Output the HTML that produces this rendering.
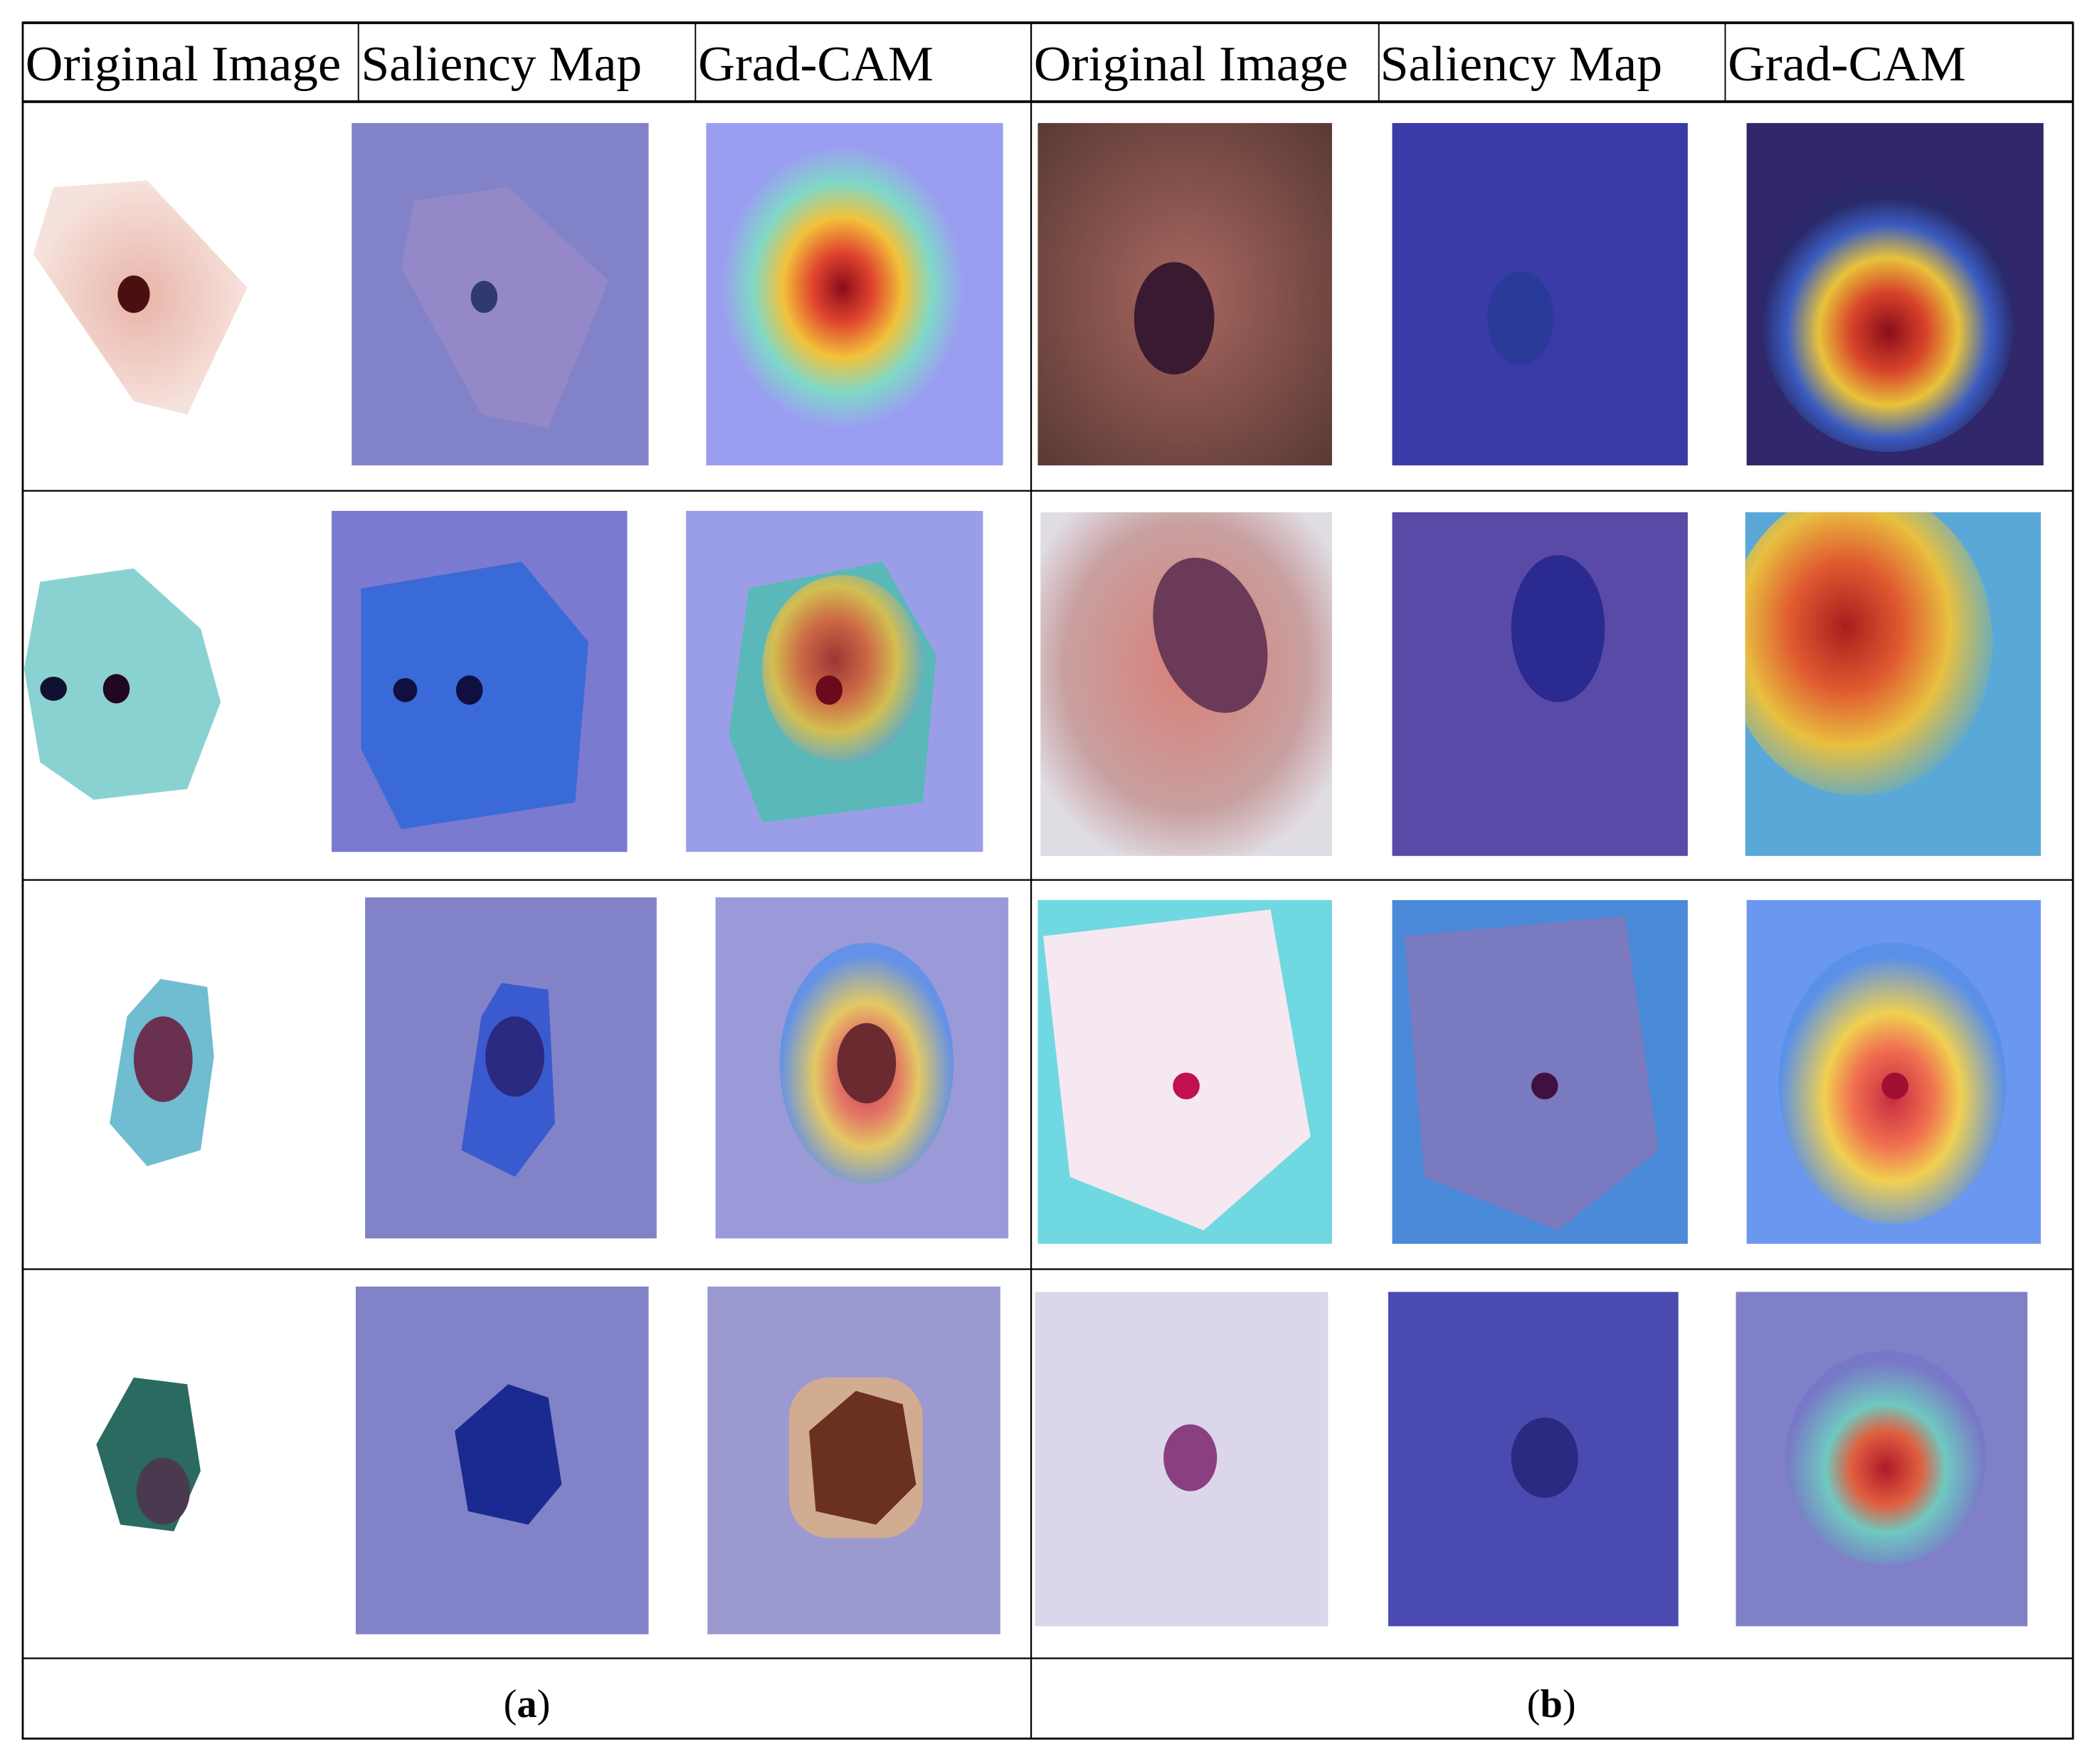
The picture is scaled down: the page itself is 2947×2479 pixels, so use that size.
<!DOCTYPE html>
<html><head><meta charset="utf-8"><style>
html,body{margin:0;padding:0;background:#fff}
svg{display:block}
text{font-family:"Liberation Serif",serif;fill:#000}
</style></head><body>
<svg width="2947" height="2479" viewBox="0 0 1568 1319" preserveAspectRatio="none" xmlns="http://www.w3.org/2000/svg">
<defs>
<radialGradient id="gcHot" cx="0.5" cy="0.5" r="0.5"><stop offset="0" stop-color="#8a0c1a"/><stop offset="0.25" stop-color="#e0442e"/><stop offset="0.5" stop-color="#f2c23a"/><stop offset="0.75" stop-color="#7fd8c8"/><stop offset="1" stop-color="#9aa0f0"/></radialGradient>
<radialGradient id="gcDark" cx="0.5" cy="0.55" r="0.5"><stop offset="0" stop-color="#8a0c1a"/><stop offset="0.3" stop-color="#d8442a"/><stop offset="0.55" stop-color="#e8c23a"/><stop offset="0.8" stop-color="#3a5cc0"/><stop offset="1" stop-color="#2a2a6a"/></radialGradient>
<radialGradient id="gcWarm" cx="0.45" cy="0.45" r="0.6"><stop offset="0" stop-color="#a81e1e"/><stop offset="0.35" stop-color="#e05a30"/><stop offset="0.65" stop-color="#e8c040"/><stop offset="1" stop-color="#50a8d8"/></radialGradient>
<radialGradient id="gcMid" cx="0.5" cy="0.55" r="0.5"><stop offset="0" stop-color="#c82a40"/><stop offset="0.35" stop-color="#f07050"/><stop offset="0.6" stop-color="#f0d050"/><stop offset="1" stop-color="#5a90e8"/></radialGradient>
<radialGradient id="gcBox" cx="0.5" cy="0.55" r="0.5"><stop offset="0" stop-color="#b0182a"/><stop offset="0.35" stop-color="#e06040"/><stop offset="0.6" stop-color="#70c8c0"/><stop offset="1" stop-color="#7878c8"/></radialGradient>
<radialGradient id="cellPink" cx="0.5" cy="0.5" r="0.5"><stop offset="0" stop-color="#e8b4a8"/><stop offset="1" stop-color="#f6e2dc"/></radialGradient>
<radialGradient id="origBrown" cx="0.5" cy="0.5" r="0.7"><stop offset="0" stop-color="#a86660"/><stop offset="1" stop-color="#5a3a34"/></radialGradient>
<radialGradient id="origPink2" cx="0.5" cy="0.45" r="0.6"><stop offset="0" stop-color="#d88078"/><stop offset="0.7" stop-color="#c8a0a0"/><stop offset="1" stop-color="#e0dce4"/></radialGradient>
<clipPath id="clipB2"><rect x="1305" y="383" width="221" height="257"/></clipPath>
</defs>

<g stroke="#000" fill="none">
<rect x="17" y="17" width="1533" height="1283" stroke-width="1.5"/>
<line x1="17" y1="17" x2="1550" y2="17" stroke-width="2"/>
<line x1="17" y1="76" x2="1550" y2="76" stroke-width="2"/>
<line x1="17" y1="367" x2="1550" y2="367" stroke-width="1.2"/>
<line x1="17" y1="658" x2="1550" y2="658" stroke-width="1.2"/>
<line x1="17" y1="949" x2="1550" y2="949" stroke-width="1.2"/>
<line x1="17" y1="1240" x2="1550" y2="1240" stroke-width="1.2"/>
<line x1="771" y1="17" x2="771" y2="1300" stroke-width="1.2"/>
<line x1="268" y1="17" x2="268" y2="76" stroke-width="1"/>
<line x1="520" y1="17" x2="520" y2="76" stroke-width="1"/>
<line x1="1031" y1="17" x2="1031" y2="76" stroke-width="1"/>
<line x1="1290" y1="17" x2="1290" y2="76" stroke-width="1"/>
</g>

<g font-size="37">
<text x="19" y="60" textLength="236" lengthAdjust="spacingAndGlyphs">Original Image</text>
<text x="270" y="60" textLength="210" lengthAdjust="spacingAndGlyphs">Saliency Map</text>
<text x="522" y="60" textLength="176" lengthAdjust="spacingAndGlyphs">Grad-CAM</text>
<text x="773" y="60" textLength="235" lengthAdjust="spacingAndGlyphs">Original Image</text>
<text x="1032" y="60" textLength="211" lengthAdjust="spacingAndGlyphs">Saliency Map</text>
<text x="1292" y="60" textLength="178" lengthAdjust="spacingAndGlyphs">Grad-CAM</text>
</g>

<g>
<polygon points="40,140 110,135 185,215 140,310 100,300 25,190" fill="url(#cellPink)"/>
<ellipse cx="100" cy="220" rx="12" ry="14" fill="#4a1010"/>
<rect x="263" y="92" width="222" height="256" fill="#8282c8"/>
<polygon points="310,150 380,140 455,210 410,320 360,310 300,200" fill="#9488c8"/>
<ellipse cx="362" cy="222" rx="10" ry="12" fill="#303a70"/>
<rect x="528" y="92" width="222" height="256" fill="#9a9ef0"/>
<ellipse cx="630" cy="215" rx="90" ry="105" fill="url(#gcHot)"/>
<rect x="776" y="92" width="220" height="256" fill="url(#origBrown)"/>
<ellipse cx="878" cy="238" rx="30" ry="42" fill="#3a1a30"/>
<rect x="1041" y="92" width="221" height="256" fill="#3a3aa8"/>
<ellipse cx="1137" cy="238" rx="25" ry="35" fill="#2a3a98"/>
<rect x="1306" y="92" width="222" height="256" fill="#30286a"/>
<ellipse cx="1412" cy="238" rx="95" ry="100" fill="url(#gcDark)"/>
</g>

<g>
<polygon points="30,435 100,425 150,470 165,525 140,590 70,598 30,570 18,500" fill="#8ad2d2"/>
<ellipse cx="40" cy="515" rx="10" ry="9" fill="#101030"/>
<ellipse cx="87" cy="515" rx="10" ry="11" fill="#200820"/>
<rect x="248" y="382" width="221" height="255" fill="#7a7ad0"/>
<polygon points="270,440 390,420 440,480 430,600 300,620 270,560" fill="#3a6ad8"/>
<ellipse cx="303" cy="516" rx="9" ry="9" fill="#101040"/>
<ellipse cx="351" cy="516" rx="10" ry="11" fill="#101040"/>
<rect x="513" y="382" width="222" height="255" fill="#9a9ee8"/>
<polygon points="560,440 660,420 700,490 690,600 570,615 545,550" fill="#5ab8b8"/>
<ellipse cx="630" cy="500" rx="60" ry="70" fill="url(#gcWarm)" opacity="0.85"/>
<ellipse cx="620" cy="516" rx="10" ry="11" fill="#6a0a1a"/>
<rect x="778" y="383" width="218" height="257" fill="url(#origPink2)"/>
<ellipse cx="905" cy="475" rx="40" ry="60" fill="#6a3a58" transform="rotate(-20 905 475)"/>
<rect x="1041" y="383" width="221" height="257" fill="#5a4aa8"/>
<ellipse cx="1165" cy="470" rx="35" ry="55" fill="#2a2a90"/>
<rect x="1305" y="383" width="221" height="257" fill="#5aa8d8"/>
<ellipse cx="1390" cy="480" rx="100" ry="115" fill="url(#gcWarm)" clip-path="url(#clipB2)"/>
</g>

<g>
<polygon points="120,732 155,738 160,790 150,860 110,872 82,840 95,760" fill="#70bcd0"/>
<ellipse cx="122" cy="792" rx="22" ry="32" fill="#6a3050"/>
<rect x="273" y="671" width="218" height="255" fill="#8282c8"/>
<polygon points="375,735 410,740 415,840 385,880 345,860 360,760" fill="#3a5ad0"/>
<ellipse cx="385" cy="790" rx="22" ry="30" fill="#2a2a80"/>
<rect x="535" y="671" width="219" height="255" fill="#9a9ad8"/>
<ellipse cx="648" cy="795" rx="65" ry="90" fill="url(#gcMid)" opacity="0.85"/>
<ellipse cx="648" cy="795" rx="22" ry="30" fill="#6a2a30"/>
<rect x="776" y="673" width="220" height="257" fill="#70d8e0"/>
<polygon points="780,700 950,680 980,850 900,920 800,880" fill="#f6e8f0"/>
<circle cx="887" cy="812" r="10" fill="#c01050"/>
<rect x="1041" y="673" width="221" height="257" fill="#4a8ad8"/>
<polygon points="1050,700 1215,685 1240,860 1165,920 1065,880" fill="#7a7ac0"/>
<circle cx="1155" cy="812" r="10" fill="#401040"/>
<rect x="1306" y="673" width="220" height="257" fill="#6a98f0"/>
<ellipse cx="1415" cy="810" rx="85" ry="105" fill="url(#gcMid)"/>
<circle cx="1417" cy="812" r="10" fill="#a01030"/>
</g>

<g>
<polygon points="100,1030 140,1035 150,1100 130,1145 90,1140 72,1080" fill="#2a6a60"/>
<ellipse cx="122" cy="1115" rx="20" ry="25" fill="#4a3a50"/>
<rect x="266" y="962" width="219" height="260" fill="#8282c8"/>
<polygon points="380,1035 410,1045 420,1110 395,1140 350,1130 340,1070" fill="#1a2a90"/>
<rect x="529" y="962" width="219" height="260" fill="#9a9ad0"/>
<rect x="590" y="1030" width="100" height="120" rx="30" fill="#e0b080" opacity="0.8"/>
<polygon points="640,1040 675,1050 685,1110 655,1140 610,1130 605,1070" fill="#6a3020"/>
<rect x="774" y="966" width="219" height="250" fill="#dcd6ea"/>
<ellipse cx="890" cy="1090" rx="20" ry="25" fill="#8a4080"/>
<rect x="1038" y="966" width="217" height="250" fill="#4a4ab0"/>
<ellipse cx="1155" cy="1090" rx="25" ry="30" fill="#2a2a80"/>
<rect x="1298" y="966" width="218" height="250" fill="#8080c8"/>
<ellipse cx="1410" cy="1090" rx="75" ry="80" fill="url(#gcBox)"/>
</g>

<g font-size="30" text-anchor="middle">
<text x="394" y="1284">(<tspan font-weight="bold">a</tspan>)</text>
<text x="1160" y="1284">(<tspan font-weight="bold">b</tspan>)</text>
</g>
</svg>
</body></html>
